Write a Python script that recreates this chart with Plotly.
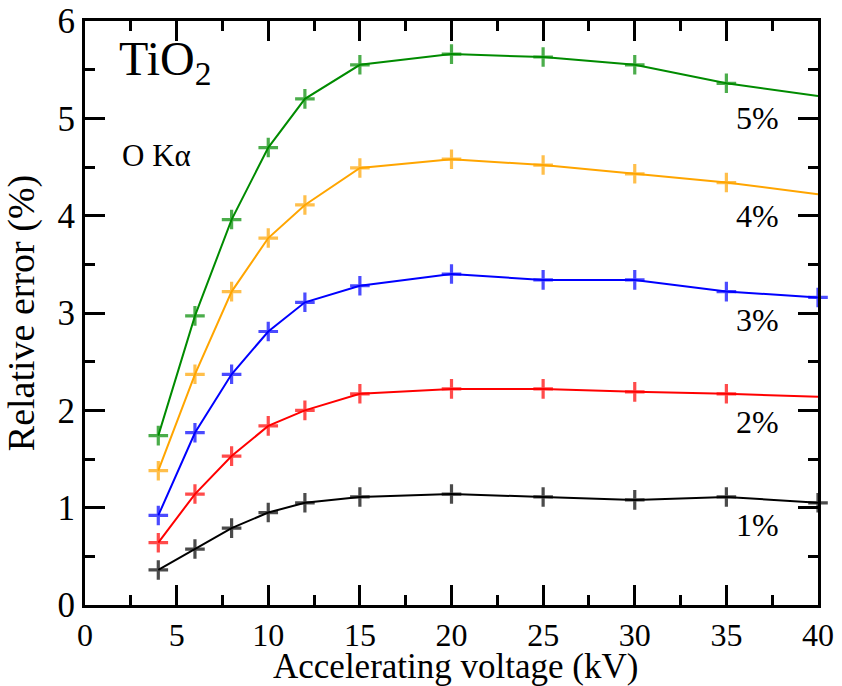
import plotly.graph_objects as go

# Accelerating voltage (kV)
voltage = [4, 6, 8, 10, 12, 15, 20, 25, 30, 35, 40]

# Relative error (%) of O Kα in TiO2 for each uncertainty level
err_1 = [0.36, 0.575, 0.79, 0.95, 1.05, 1.11, 1.14, 1.11, 1.08, 1.11, 1.05]
err_2 = [0.64, 1.14, 1.53, 1.84, 2.00, 2.17, 2.22, 2.22, 2.19, 2.17, 2.14]
err_3 = [0.92, 1.77, 2.37, 2.81, 3.11, 3.28, 3.40, 3.34, 3.34, 3.22, 3.16]
err_4 = [1.38, 2.37, 3.22, 3.77, 4.11, 4.49, 4.58, 4.52, 4.43, 4.34, 4.22]
err_5 = [1.74, 2.97, 3.96, 4.70, 5.20, 5.55, 5.66, 5.63, 5.55, 5.36, 5.23]

series = [
    ("1%", err_1, "rgb(0,0,0)", True),
    ("2%", err_2, "rgb(255,0,0)", False),
    ("3%", err_3, "rgb(0,0,255)", True),
    ("4%", err_4, "rgb(255,165,0)", False),
    ("5%", err_5, "rgb(0,139,0)", False),
]

# label anchor positions for the curve labels
label_x = 36.7
label_y = [0.82, 1.88, 2.93, 4.0, 5.0]

FONT = "Liberation Serif"

fig = go.Figure()
for (name, vals, color, last_marker) in series:
    sizes = [14] * len(voltage)
    if not last_marker:
        sizes[-1] = 0
    fig.add_trace(go.Scatter(
        x=voltage, y=vals, name=name, mode="lines+markers",
        line=dict(color=color, width=2),
        marker=dict(symbol="cross-thin", size=sizes,
                    line=dict(color=color, width=3.2)),
        cliponaxis=False, showlegend=False,
    ))

for (name, _, _, _), ly in zip(series, label_y):
    fig.add_annotation(x=label_x, y=ly, text=name, showarrow=False,
                       font=dict(family=FONT, size=32, color="black"),
                       xanchor="center", yanchor="middle")

fig.add_annotation(xref="paper", yref="paper", x=0.043, y=0.93,
                   text="TiO<sub>2</sub>", showarrow=False,
                   xanchor="left", yanchor="middle",
                   font=dict(family=FONT, size=48, color="black"))
fig.add_annotation(xref="paper", yref="paper", x=0.048, y=0.77,
                   text="O Kα", showarrow=False,
                   xanchor="left", yanchor="middle",
                   font=dict(family=FONT, size=31, color="black"))

# x-axis title placed as an annotation below the tick labels
fig.add_annotation(xref="paper", yref="paper", x=0.505, y=-0.105,
                   text="Accelerating voltage (kV)", showarrow=False,
                   xanchor="center", yanchor="middle",
                   font=dict(family=FONT, size=35, color="black"))

axis_common = dict(
    showgrid=False, zeroline=False, showline=True, linecolor="black",
    linewidth=3, mirror="ticks", ticks="inside", ticklen=20, tickwidth=3,
    tickcolor="black", automargin=False,
)

fig.update_xaxes(range=[0, 40], dtick=5, tick0=0,
                 tickfont=dict(family=FONT, size=32, color="black"),
                 minor=dict(dtick=2.5, ticks="inside", ticklen=10,
                            tickwidth=3, tickcolor="black"),
                 **axis_common)
fig.update_yaxes(range=[0, 6], dtick=1, tick0=0,
                 tickfont=dict(family=FONT, size=35, color="black"),
                 minor=dict(dtick=0.5, ticks="inside", ticklen=10,
                            tickwidth=3, tickcolor="black"),
                 title=dict(text="Relative error (%)",
                            font=dict(family=FONT, size=38, color="black")),
                 **axis_common)

fig.update_layout(
    width=842, height=686,
    margin=dict(l=85, r=24, t=21, b=81),
    plot_bgcolor="white", paper_bgcolor="white",
    font=dict(family=FONT, color="black"),
)

fig.write_html("out.html")
